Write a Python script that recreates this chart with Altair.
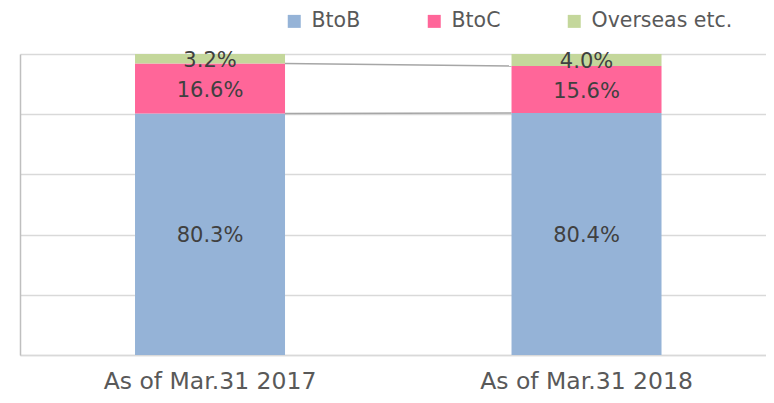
import altair as alt
import pandas as pd

categories = ["As of Mar.31 2017", "As of Mar.31 2018"]
series = ["BtoB", "BtoC", "Overseas etc."]
btob = [80.3, 80.4]
btoc = [16.6, 15.6]
overseas = [3.2, 4.0]
colors = ["#95b3d7", "#ff6699", "#c4d79b"]

values = {"BtoB": btob, "BtoC": btoc, "Overseas etc.": overseas}

rows = []
for i, cat in enumerate(categories):
    total = sum(values[s][i] for s in series)
    acc = 0.0
    for k, s in enumerate(series):
        v = values[s][i]
        y0 = acc / total
        acc += v
        y1 = acc / total
        rows.append({"cat": cat, "series": s, "order": k, "value": v,
                     "y0": y0, "y1": y1, "mid": (y0 + y1) / 2,
                     "label": f"{v:.1f}%"})
df = pd.DataFrame(rows)

# series lines between bars (top of BtoB, top of BtoC)
lines = []
for s in series[:2]:
    a = df[(df.cat == categories[0]) & (df.series == s)].iloc[0]
    b = df[(df.cat == categories[1]) & (df.series == s)].iloc[0]
    lines.append({"cat": categories[0], "to": categories[1], "y0": a.y1, "yb": b.y1})
ldf = pd.DataFrame(lines)

FONT = "DejaVu Sans"

xscale = alt.Scale(domain=categories, paddingInner=0.6016, paddingOuter=0.2915, align=0.524)
yscale = alt.Scale(domain=[0, 1], nice=False)

xaxis = alt.Axis(title=None, labelAngle=0, labelFont=FONT, labelFontSize=23.5, labelLimit=0,
                 labelColor="#595959", labelPadding=14, ticks=False,
                 domainColor="#d9d9d9", domainWidth=1.5, grid=False)
yaxis = alt.Axis(title=None, labels=False, ticks=False, values=[0, 0.2, 0.4, 0.6, 0.8, 1.0],
                 grid=True, gridColor="#d9d9d9", gridWidth=1.3,
                 domainColor="#bfbfbf", domainWidth=1.5)

rules = alt.Chart(ldf).mark_rule(color="#a6a6a6", strokeWidth=1.5).encode(
    x=alt.X("cat:N", scale=xscale, sort=categories, bandPosition=1, axis=xaxis),
    x2=alt.X2("to:N", bandPosition=0),
    y=alt.Y("y0:Q", scale=yscale, axis=yaxis),
    y2="yb:Q",
)

bars = alt.Chart(df).mark_bar(strokeWidth=0).encode(
    x=alt.X("cat:N", scale=xscale, sort=categories, axis=xaxis),
    y=alt.Y("y0:Q", scale=yscale, axis=yaxis),
    y2="y1:Q",
    color=alt.Color("series:N", scale=alt.Scale(domain=series, range=colors),
                    legend=alt.Legend(title=None, orient="none", direction="horizontal",
                                      legendX=264, legendY=-43, symbolType="square",
                                      symbolSize=169, symbolStrokeWidth=0,
                                      labelFont=FONT, labelFontSize=20.5, labelColor="#595959",
                                      labelOffset=7, labelLimit=0, columnPadding=63)),
)

texts = alt.Chart(df).mark_text(font=FONT, fontSize=21, color="#404040", baseline="middle", dy=2).encode(
    x=alt.X("cat:N", scale=xscale, sort=categories, axis=xaxis),
    y=alt.Y("mid:Q", scale=yscale, axis=yaxis),
    text="label:N",
)

chart = alt.layer(rules, bars, texts).properties(
    width=746, height=301,
    background="white",
    autosize=alt.AutoSizeParams(type="none"),
    padding={"left": 12, "top": 46, "right": 0, "bottom": 40},
).configure_view(stroke=None)

chart.save("out.html", embed_options={"renderer": "svg", "actions": False})
